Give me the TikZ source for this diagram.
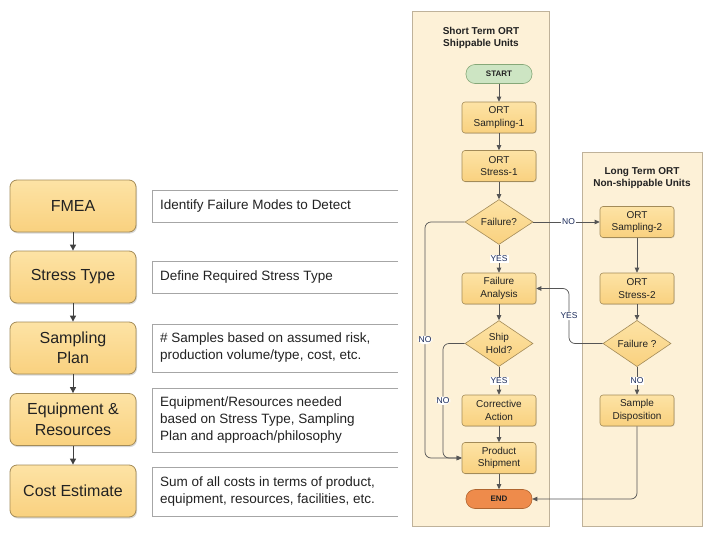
\documentclass[tikz,border=0pt]{standalone}
\usepackage{fontspec}
\setmainfont{Liberation Sans}
\usetikzlibrary{arrows.meta,shapes.geometric,shadows,calc}
\definecolor{boxtop}{HTML}{FDE3A5}
\definecolor{boxbot}{HTML}{F9D17F}
\definecolor{boxline}{HTML}{A38B58}
\definecolor{panelfill}{HTML}{FDF1D7}
\definecolor{panelline}{HTML}{BFB29A}
\definecolor{startfill}{HTML}{CDE5C3}
\definecolor{startline}{HTML}{86A878}
\definecolor{endfill}{HTML}{EE8B4B}
\definecolor{endline}{HTML}{B0652F}
\definecolor{arrcol}{HTML}{555555}
\definecolor{descline}{HTML}{A6A6A6}
\definecolor{lblcol}{HTML}{1A2A5A}
\definecolor{txt}{HTML}{222222}
\begin{document}
\begin{tikzpicture}[x=1pt,y=-1pt,
  lbox/.style={rectangle,rounded corners=7pt,top color=boxtop,bottom color=boxbot,draw=boxline,line width=0.8pt,
    minimum width=126pt,minimum height=52pt,align=center,text=txt,
    font=\fontsize{16}{20.5}\selectfont,drop shadow={opacity=0.3,shadow xshift=1pt,shadow yshift=-1.5pt}},
  fbox/.style={rectangle,rounded corners=3pt,top color=boxtop,bottom color=boxbot,draw=boxline,line width=0.6pt,
    minimum width=74pt,minimum height=31pt,align=center,inner sep=1pt,text=txt,
    font=\fontsize{10}{12.5}\selectfont,drop shadow={opacity=0.2,shadow xshift=0.8pt,shadow yshift=-0.8pt}},
  dia/.style={diamond,top color=boxtop,bottom color=boxbot,draw=boxline,line width=0.6pt,
    minimum width=68pt,minimum height=45pt,inner sep=0pt,align=center,text=txt,
    font=\fontsize{10}{12.5}\selectfont},
  term/.style={rectangle,rounded corners=9pt,minimum width=66pt,minimum height=19pt,line width=0.6pt,
    font=\fontsize{8}{10}\bfseries\selectfont,text=txt},
  panel/.style={draw=panelline,fill=panelfill,line width=0.7pt},
  ptitle/.style={align=center,font=\fontsize{10}{12.5}\bfseries\selectfont,text=txt},
  desc/.style={anchor=west,align=left,text=txt,font=\fontsize{13.5}{17}\selectfont,inner sep=0pt},
  larr/.style={draw=black!75,line width=1pt,-{Triangle[length=6pt,width=6pt]}},
  arr/.style={draw=arrcol,line width=0.7pt,-{Triangle[length=5pt,width=4.5pt]}},
  lbl/.style={fill=white,inner sep=1pt,text=lblcol,font=\fontsize{8.5}{9}\selectfont}
]
\useasboundingbox (0,0) rectangle (710,533);
\fill[white] (0,0) rectangle (710,533);

% ---------- left column ----------
\node[lbox] (fmea) at (73,206) {FMEA};
\node[lbox] (stress) at (73,277) {Stress Type};
\node[lbox] (samp) at (73,348) {Sampling\\Plan};
\node[lbox] (equip) at (73,419.5) {Equipment \&\\Resources};
\node[lbox] (cost) at (73,491) {Cost Estimate};
\draw[larr] (fmea) -- (stress);
\draw[larr] (stress) -- (samp);
\draw[larr] (samp) -- (equip);
\draw[larr] (equip) -- (cost);

\begin{scope}[descline, line width=0.8pt]
\draw (398,190) -- (152,190) -- (152,222) -- (398,222);
\draw (398,261) -- (152,261) -- (152,293) -- (398,293);
\draw (398,324) -- (152,324) -- (152,372) -- (398,372);
\draw (398,388) -- (152,388) -- (152,452) -- (398,452);
\draw (398,467) -- (152,467) -- (152,516) -- (398,516);
\end{scope}
\node[desc] (d1) at (160,206) {Identify Failure Modes to Detect};
\node[desc] (d2) at (160,277) {Define Required Stress Type};
\node[desc] (d3) at (160,348) {\# Samples based on assumed risk,\\production volume/type, cost, etc.};
\node[desc] (d4) at (160,420) {Equipment/Resources needed\\based on Stress Type, Sampling\\Plan and approach/philosophy};
\node[desc] (d5) at (160,491.5) {Sum of all costs in terms of product,\\equipment, resources, facilities, etc.};

% ---------- panels ----------
\draw[panel] (412,11) rectangle (549,526);
\draw[panel] (582,152) rectangle (702,526);
\node[ptitle] (t1) at (481,38) {Short Term ORT\\Shippable Units};
\node[ptitle] (t2) at (642,178) {Long Term ORT\\Non-shippable Units};

% ---------- short term ----------
\node[term,fill=startfill,draw=startline] (start) at (499,74) {START};
\node[fbox] (s1) at (499,117.5) {ORT\\Sampling-1};
\node[fbox] (st1) at (499,166) {ORT\\Stress-1};
\node[dia] (f1) at (499,222) {Failure?};
\node[fbox] (fa) at (499,288.5) {Failure\\Analysis};
\node[dia] (sh) at (499,343.5) {Ship\\Hold?};
\node[fbox] (ca) at (499,410.5) {Corrective\\Action};
\node[fbox] (ps) at (499,458) {Product\\Shipment};
\node[term,fill=endfill,draw=endline] (endn) at (499,499) {END};

% ---------- long term ----------
\node[fbox] (s2) at (637,222) {ORT\\Sampling-2};
\node[fbox] (st2) at (637,288.5) {ORT\\Stress-2};
\node[dia] (f2) at (637,343.5) {Failure ?};
\node[fbox] (sd) at (637,410.5) {Sample\\Disposition};

\coordinate (xL) at (425,0);
\coordinate (xS) at (443,0);
\coordinate (xY) at (569,0);

\draw[arr] (start) -- (s1);
\draw[arr] (s1) -- (st1);
\draw[arr] (st1) -- (f1);
\draw[arr] (f1) -- node[lbl]{YES} (fa);
\draw[arr] (fa) -- (sh);
\draw[arr] (sh) -- node[lbl]{YES} (ca);
\draw[arr] (ca) -- (ps);
\draw[arr] (ps) -- (endn);
\draw[arr] (f1.east) -- node[lbl,pos=0.53]{NO} (s2.west);
\draw[arr,rounded corners=6pt] (f1.west) -- (f1.west -| xL) -- node[lbl]{NO} (ps.west -| xL) -- (ps.west);
\draw[arr,rounded corners=6pt] (sh.west) -- (sh.west -| xS) -- node[lbl]{NO} (ps.west -| xS) -- (ps.west);
\draw[arr] (s2) -- (st2);
\draw[arr] (st2) -- (f2);
\draw[arr] (f2) -- node[lbl]{NO} (sd);
\draw[arr,rounded corners=6pt] (f2.west) -- (f2.west -| xY) -- node[lbl]{YES} (fa.east -| xY) -- (fa.east);
\draw[arr,rounded corners=6pt] (sd.south) -- (sd.south |- endn.east) -- (endn.east);
\end{tikzpicture}
\end{document}
